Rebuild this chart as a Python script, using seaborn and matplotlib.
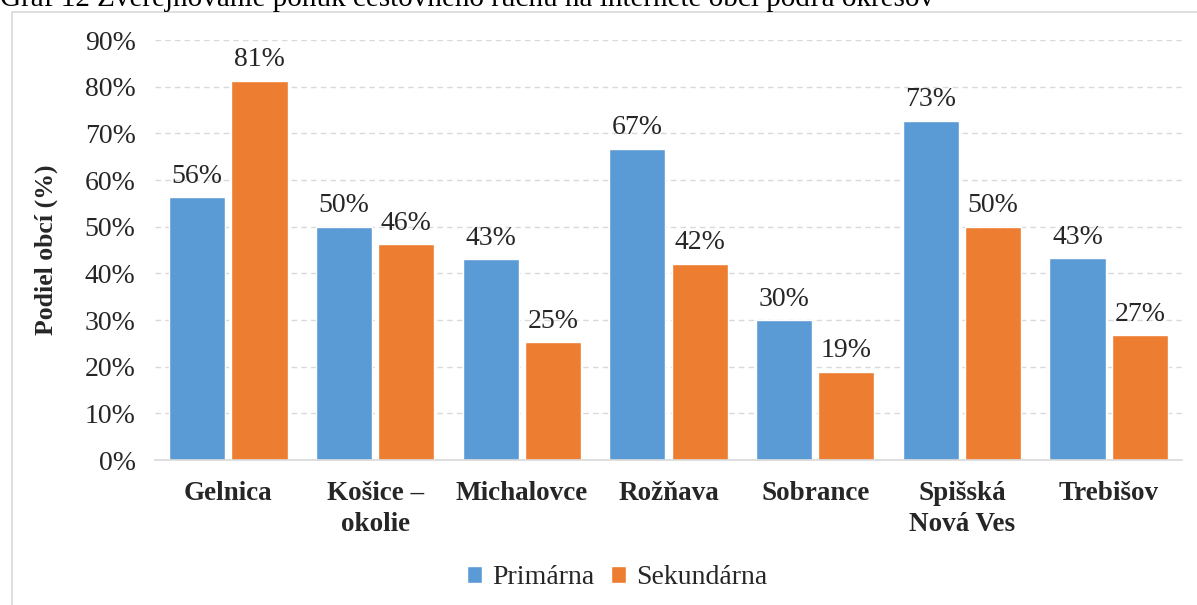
import matplotlib
matplotlib.use("Agg")
import matplotlib.pyplot as plt
import seaborn as sns
import pandas as pd
from matplotlib.patches import Rectangle

districts = ["Gelnica", "Košice –\nokolie", "Michalovce", "Rožňava", "Sobrance",
             "Spišská\nNová Ves", "Trebišov"]
primarna = [56.3, 50.0, 43.0, 66.7, 30.0, 72.7, 43.3]
sekundarna = [81.3, 46.2, 25.3, 42.1, 18.9, 50.0, 26.7]
series = ["Primárna", "Sekundárna"]
yticks = [0, 10, 20, 30, 40, 50, 60, 70, 80, 90]
title = "Graf 12 Zverejňovanie ponúk cestovného ruchu na internete obcí podľa okresov"

df = pd.DataFrame({
    "okres": districts * 2,
    "typ": [series[0]] * len(districts) + [series[1]] * len(districts),
    "podiel": primarna + sekundarna,
})

sns.set_theme(style="white")
plt.rcParams["font.family"] = ["Liberation Serif", "DejaVu Serif"]

fig = plt.figure(figsize=(11.97, 6.05), dpi=100)
ax = fig.add_axes([155 / 1197, 1 - 460 / 605, (1182 - 155) / 1197, (460 - 40) / 605])

sns.barplot(data=df, x="okres", y="podiel", hue="typ", order=districts, hue_order=series,
            palette=["#5B9BD5", "#ED7D31"], width=0.85, gap=0.1, ax=ax, saturation=1,
            errorbar=None)

for cont in ax.containers:
    ax.bar_label(cont, labels=[f"{b.get_height():.0f}%" for b in cont], padding=6,
                 fontsize=20, color="#262626")

ax.set_ylim(0, 90)
ax.set_yticks(yticks)
ax.set_yticklabels([f"{t}%" for t in yticks], fontsize=20, color="#262626")
ax.set_xlim(-0.5, len(districts) - 0.5)
ax.tick_params(axis="y", length=0, pad=14)
ax.tick_params(axis="x", length=0, pad=15)
for lbl in ax.get_xticklabels():
    lbl.set_fontweight("bold")
    lbl.set_fontsize(19.5)
    lbl.set_multialignment("center")
    lbl.set_linespacing(1.3)
ax.set_xlabel("")
ax.set_ylabel("Podiel obcí (%)", fontsize=18.5, fontweight="bold")
ax.yaxis.set_label_coords((58 - 155) / 1027, 0.5)

ax.yaxis.grid(True, linestyle=(0, (4, 3)), color="#D9D9D9", linewidth=1)
ax.set_axisbelow(True)
for s in ["top", "right", "left"]:
    ax.spines[s].set_visible(False)
ax.spines["bottom"].set_color("#D9D9D9")
ax.spines["bottom"].set_linewidth(1.2)

leg = ax.legend(loc="center", bbox_to_anchor=(617 / 1197, 1 - 578 / 605),
                bbox_transform=fig.transFigure, ncol=2, frameon=False, fontsize=20,
                handlelength=0.55, handleheight=0.55, handletextpad=0.35, columnspacing=0.6)
for t in leg.get_texts():
    t.set_color("#262626")

# outer chart border
fig.patches.append(Rectangle((12 / 1197, -0.1), 1.2, 1 - 12 / 605 + 0.1,
                             transform=fig.transFigure, fill=False,
                             edgecolor="#D9D9D9", linewidth=1.2, zorder=0))

# caption at top (clipped by the page edge, as in the reference)
fig.text(0.0, 1 - 6 / 605, title, fontsize=21, va="baseline", ha="left", color="black")

fig.savefig("out.png", dpi=100)
